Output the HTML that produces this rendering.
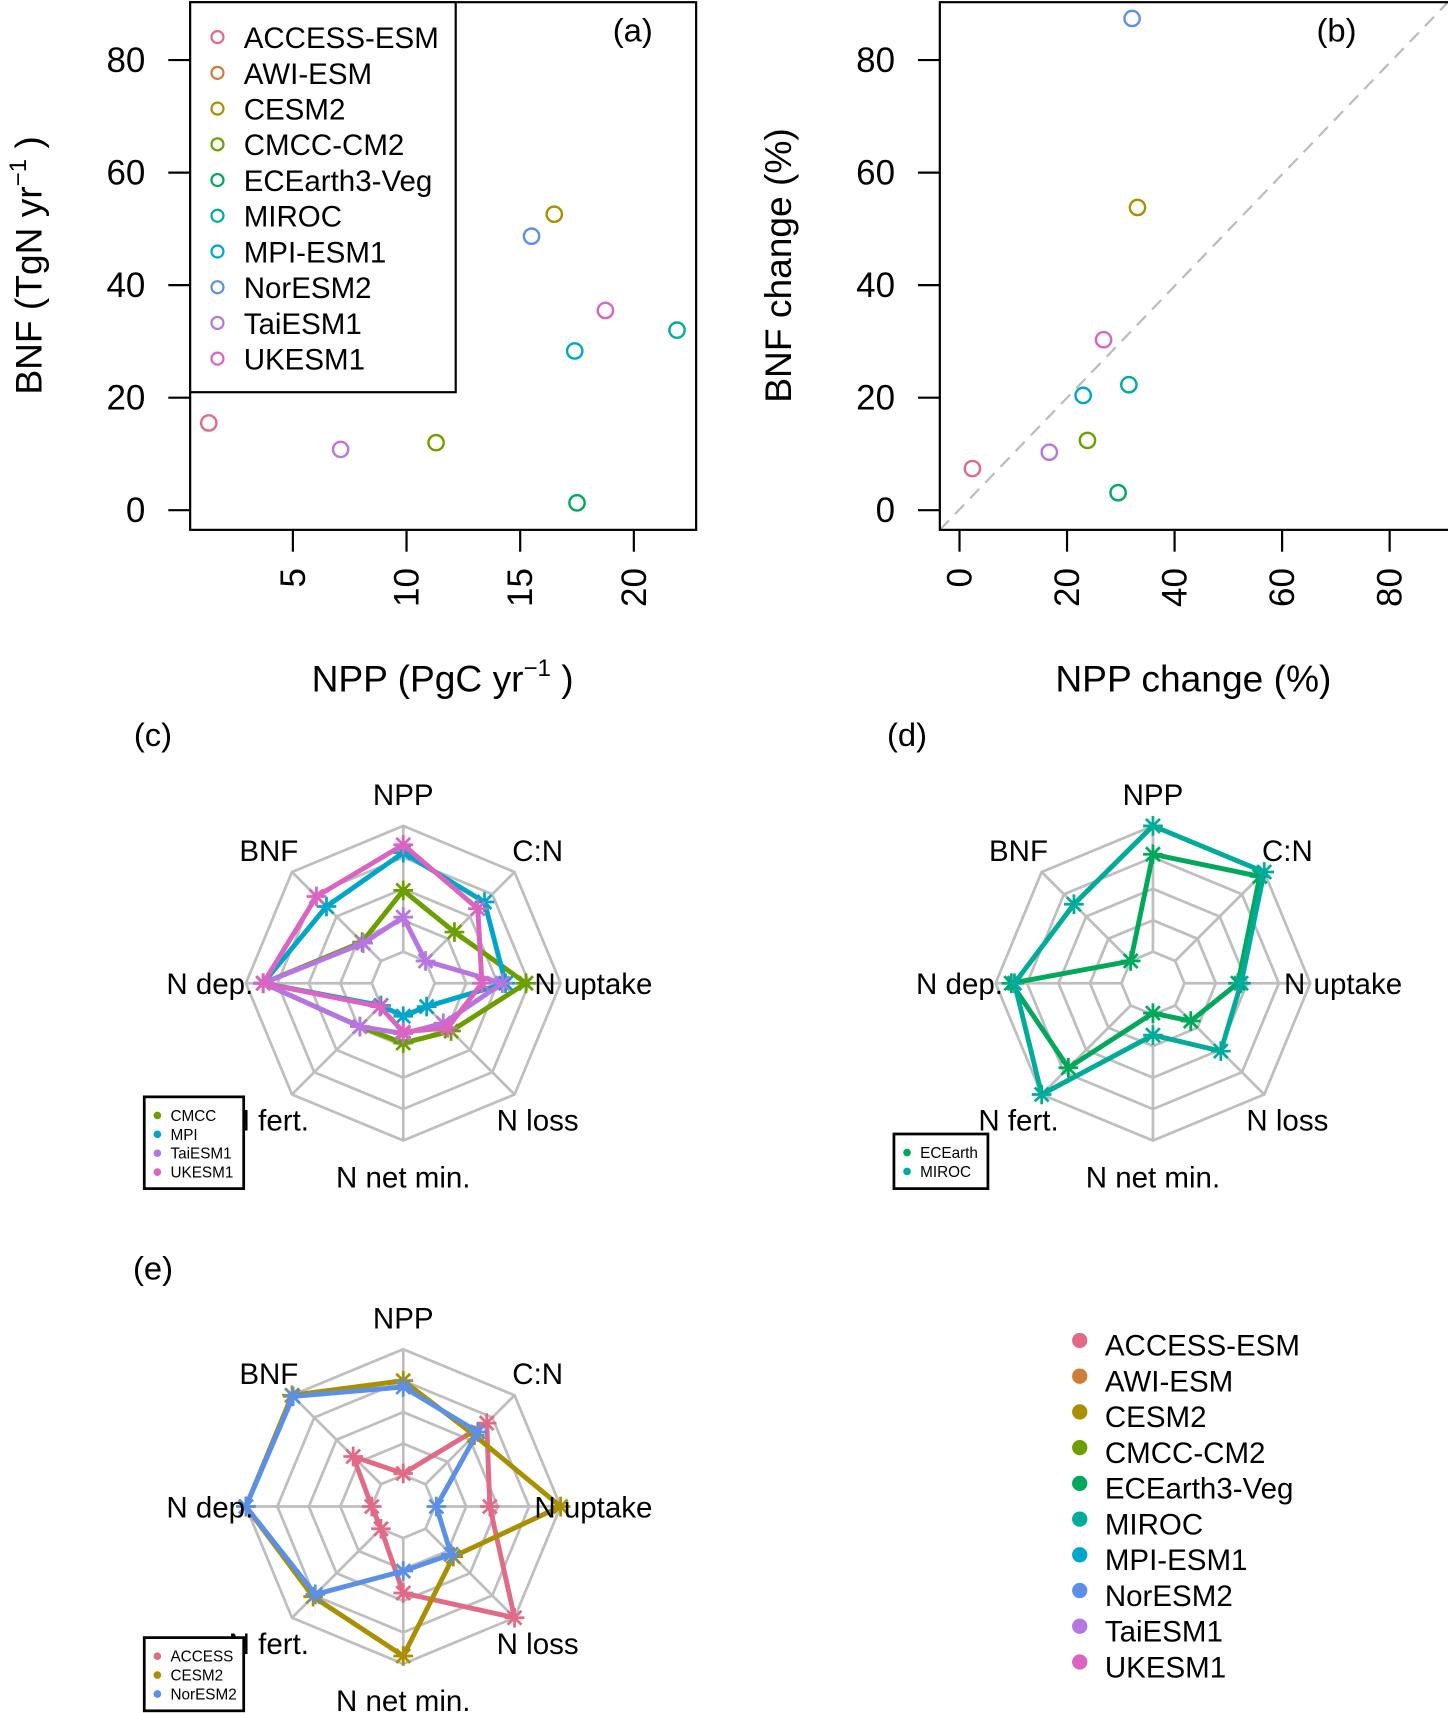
<!DOCTYPE html>
<html><head><meta charset="utf-8">
<style>html,body{margin:0;padding:0;background:#fff}svg{display:block}text{font-family:"Liberation Sans",Arial,sans-serif;fill:#000}</style>
</head><body>
<svg id="fig" xmlns="http://www.w3.org/2000/svg" width="1448" height="1713" viewBox="0 0 1325 1568" preserveAspectRatio="none"></svg>
<script>
// ---- data ----
const models = ["ACCESS-ESM","AWI-ESM","CESM2","CMCC-CM2","ECEarth3-Veg","MIROC","MPI-ESM1","NorESM2","TaiESM1","UKESM1"];
const colors = ["#E16A86","#CE7D3B","#AA9000","#6C9E00","#00A85C","#00AB9A","#00A6CA","#5C8FE6","#B675E0","#DB64C0"];
const nppA = [1.3,null,16.5,11.3,17.5,21.9,17.4,15.5,7.1,18.75];
const bnfA = [15.5,null,52.6,12.0,1.3,32.0,28.3,48.7,10.8,35.5];
const nppChg = [2.4,null,33.1,23.8,29.5,31.5,23.0,32.1,16.7,26.8];
const bnfChg = [7.4,null,53.8,12.4,3.1,22.3,20.4,87.4,10.3,30.3];
const xTicksA = [5,10,15,20];
const yTicks = [0,20,40,60,80];
const xTicksB = [0,20,40,60,80];
const radarAxes = ["NPP","C:N","N uptake","N loss","N net min.","N fert.","N dep.","BNF"];
// radar values as fraction of outer ring (order as radarAxes)
const rCMCC   = [0.59,0.46,0.78,0.43,0.38,0.39,0.89,0.37];
const rMPI    = [0.83,0.73,0.65,0.21,0.21,0.20,0.89,0.69];
const rTai    = [0.42,0.20,0.63,0.36,0.32,0.39,0.89,0.36];
const rUK     = [0.88,0.67,0.50,0.40,0.31,0.21,0.89,0.78];
const rEC     = [0.82,0.96,0.54,0.34,0.19,0.76,0.90,0.20];
const rMIROC  = [1.00,1.00,0.56,0.61,0.33,1.00,0.88,0.71];
const rACCESS = [0.21,0.75,0.55,1.00,0.55,0.20,0.20,0.45];
const rCESM   = [0.80,0.64,1.00,0.45,0.95,0.81,1.00,1.00];
const rNor    = [0.76,0.67,0.21,0.43,0.41,0.79,1.00,0.99];

const NS="http://www.w3.org/2000/svg", svg=document.getElementById('fig');
function el(tag,attrs,parent,text){const e=document.createElementNS(NS,tag);for(const k in attrs)e.setAttribute(k,attrs[k]);if(text!==undefined)e.textContent=text;(parent||svg).appendChild(e);return e;}
function grp(name){const g=el('g',{});


return g;}

// ---- panel a ----
const ga=grp('panel-a');
const ax=v=>268+(v-5)*20.8, ay=v=>467-v*5.15;
el('rect',{x:174,y:2,width:463,height:483,fill:'none',stroke:'#000','stroke-width':2},ga);
yTicks.forEach(t=>{el('line',{x1:154,x2:174,y1:ay(t),y2:ay(t),stroke:'#000','stroke-width':2},ga);
 const tx=el('text',{x:133,y:ay(t)+11,'font-size':32,'text-anchor':'end'},ga,String(t));
 
 });
xTicksA.forEach(t=>{el('line',{x1:ax(t),x2:ax(t),y1:485,y2:505,stroke:'#000','stroke-width':2},ga);
 const tx=el('text',{x:0,y:0,'font-size':32,'text-anchor':'end',transform:`translate(${ax(t)+11},520) rotate(-90)`},ga,String(t));
 
 });
el('text',{x:0,y:0,'font-size':34,'text-anchor':'middle',transform:'translate(38,243) rotate(-90)'},ga).innerHTML='BNF (TgN  yr<tspan font-size="22" dy="-14">−1</tspan><tspan dy="14"> )</tspan>';
el('text',{x:405,y:633,'font-size':34,'text-anchor':'middle'},ga).innerHTML='NPP (PgC  yr<tspan font-size="22" dy="-14">−1</tspan><tspan dy="14"> )</tspan>';
el('text',{x:579,y:38,'font-size':30,'text-anchor':'middle'},ga,'(a)');
el('rect',{x:174,y:2,width:243,height:357,fill:'#fff',stroke:'#000','stroke-width':2},ga);
models.forEach((m,i)=>{const y=34+i*32.7;
 const c=el('circle',{cx:199,cy:y,r:5.5,fill:'none',stroke:colors[i],'stroke-width':2},ga);
 
 
 const t=el('text',{x:223,y:y+10,'font-size':27},ga,m);
 
 
 if(nppA[i]!==null){const p=el('circle',{cx:ax(nppA[i]),cy:ay(bnfA[i]),r:7,fill:'none',stroke:colors[i],'stroke-width':2.2},ga);
 
 }
});

// ---- panel b ----
const gb=grp('panel-b');
const bx=v=>878+v*4.92, by=v=>467-v*5.15;
el('line',{x1:860,y1:485,x2:1325,y2:2,stroke:'#bbb','stroke-width':2,'stroke-dasharray':'12,8'},gb);
el('rect',{x:860,y:2,width:470,height:483,fill:'none',stroke:'#000','stroke-width':2},gb);
yTicks.forEach(t=>{el('line',{x1:840,x2:860,y1:by(t),y2:by(t),stroke:'#000','stroke-width':2},gb);
 const tx=el('text',{x:819,y:by(t)+11,'font-size':32,'text-anchor':'end'},gb,String(t));
 
 });
xTicksB.forEach(t=>{el('line',{x1:bx(t),x2:bx(t),y1:485,y2:505,stroke:'#000','stroke-width':2},gb);
 const tx=el('text',{x:0,y:0,'font-size':32,'text-anchor':'end',transform:`translate(${bx(t)+11},520) rotate(-90)`},gb,String(t));
 
 });
el('text',{x:0,y:0,'font-size':34,'text-anchor':'middle',transform:'translate(724,243) rotate(-90)'},gb,'BNF change (%)');
el('text',{x:1092,y:633,'font-size':34,'text-anchor':'middle'},gb,'NPP change (%)');
el('text',{x:1223,y:38,'font-size':30,'text-anchor':'middle'},gb,'(b)');
models.forEach((m,i)=>{if(nppChg[i]===null)return;
 const p=el('circle',{cx:bx(nppChg[i]),cy:by(bnfChg[i]),r:7,fill:'none',stroke:colors[i],'stroke-width':2.2},gb);
 
 });

// ---- radar ----
const R=144;
function star(g,x,y,c){for(let k=0;k<4;k++){const a=k*Math.PI/4;el('line',{x1:x-9*Math.sin(a),y1:y-9*Math.cos(a),x2:x+9*Math.sin(a),y2:y+9*Math.cos(a),stroke:c,'stroke-width':2.5},g);}}
function radar(name,cx,cy,series,cols,legNames,leg){
 const g=grp(name);
 const pt=(i,f)=>{const a=i*Math.PI/4;return [cx+f*R*Math.sin(a),cy-f*R*Math.cos(a)];};
 for(let r=1;r<=5;r++){const f=r/5;el('polygon',{points:radarAxes.map((_,i)=>pt(i,f).join(',')).join(' '),fill:'none',stroke:'#bebebe','stroke-width':2.5},g);}
 radarAxes.forEach((_,i)=>{const p0=pt(i,0.2),p1=pt(i,1);el('line',{x1:p0[0],y1:p0[1],x2:p1[0],y2:p1[1],stroke:'#bebebe','stroke-width':2.5},g);});
 series.forEach((s,j)=>{const pts=s.map((v,i)=>pt(i,v));
  const pl=el('polygon',{points:pts.map(p=>p.join(',')).join(' '),fill:'none',stroke:cols[j],'stroke-width':4.5,'stroke-linejoin':'miter'},g);
  
  
  pts.forEach(p=>star(g,p[0],p[1],cols[j]));});
 const off=[[0,-163],[123,-112],[174,10],[123,135],[0,187],[-123,135],[-177,10],[-123,-112]];
 radarAxes.forEach((a,i)=>{const t=el('text',{x:cx+off[i][0],y:cy+off[i][1],'font-size':27,'text-anchor':'middle'},g,a);
  
  });
 const lg=el('g',{},g);
 
 
 el('rect',{x:leg[0],y:leg[1],width:leg[2],height:leg[3],fill:'#fff',stroke:'#000','stroke-width':2.5},lg);
 legNames.forEach((n,j)=>{const y=leg[1]+17+j*17.3;el('circle',{cx:leg[0]+12,cy:y,r:3.5,fill:cols[j]},lg);
  el('text',{x:leg[0]+24,y:y+5,'font-size':14},lg,n);});
}
radar('radar-c',369,900,[rCMCC,rMPI,rTai,rUK],[colors[3],colors[6],colors[8],colors[9]],["CMCC","MPI","TaiESM1","UKESM1"],[132,1004,91,84]);
radar('radar-d',1055,900,[rEC,rMIROC],[colors[4],colors[5]],["ECEarth","MIROC"],[818,1038,86,50]);
radar('radar-e',369,1379,[rACCESS,rCESM,rNor],[colors[0],colors[2],colors[7]],["ACCESS","CESM2","NorESM2"],[132,1499,91,67]);
el('text',{x:140,y:683,'font-size':30,'text-anchor':'middle'},svg,'(c)');
el('text',{x:830,y:683,'font-size':30,'text-anchor':'middle'},svg,'(d)');
el('text',{x:140,y:1171,'font-size':30,'text-anchor':'middle'},svg,'(e)');

// ---- big legend ----
const gl=grp('model-legend');
models.forEach((m,i)=>{const y=1227+i*32.7;
 const c=el('circle',{cx:988,cy:y,r:7,fill:colors[i]},gl);
 
 
 const t=el('text',{x:1011,y:y+14,'font-size':27},gl,m);
 
 });
</script>
</body></html>
